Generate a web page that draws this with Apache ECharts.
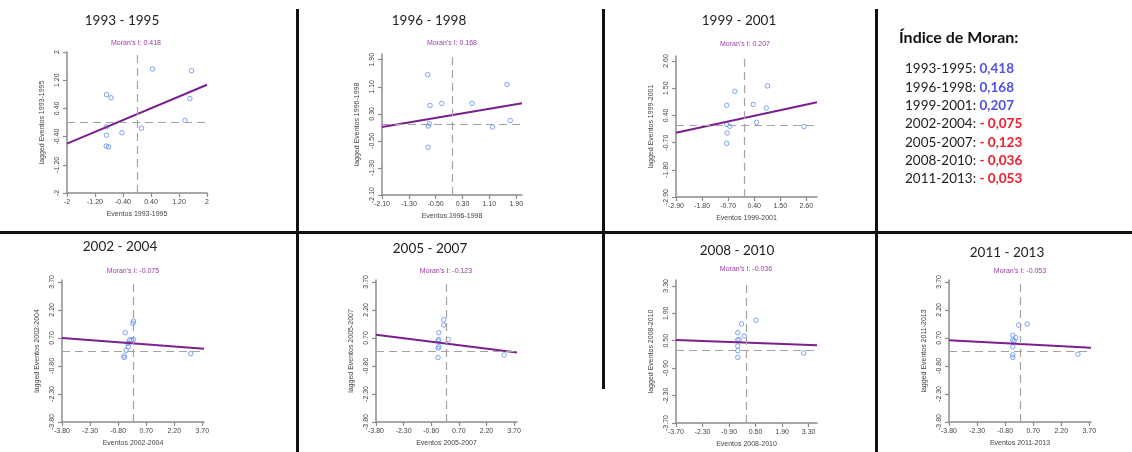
<!DOCTYPE html>
<html>
<head>
<meta charset="utf-8">
<script src="https://cdn.jsdelivr.net/npm/echarts@6/dist/echarts.min.js"></script>
<style>
  html, body { margin: 0; padding: 0; background: #fff; }
  #chart { width: 1132px; height: 452px; }
</style>
</head>
<body>
<div id="chart"></div>
<script>
// periodos e indice de Moran (inclinação da reta)
const periods = ['1993-1995', '1996-1998', '1999-2001', '2002-2004', '2005-2007', '2008-2010', '2011-2013'];
const moranI = [0.418, 0.168, 0.207, -0.075, -0.123, -0.036, -0.053];
const intercepts = [0.235, 0.263, 0.30, 0.41, 0.40, 0.41, 0.37];

// eventos (x) e eventos defasados (y)
const ev9395 = [-0.87, -0.74, 0.44, 1.56, 1.51, 1.37, 0.13, -0.43, -0.87, -0.87, -0.88, -0.81];
const lag9395 = [0.79, 0.70, 1.52, 1.47, 0.68, 0.06, -0.16, -0.29, -0.36, -0.12, -0.67, -0.69];
const ev9698 = [-0.74, -0.67, -0.32, 0.58, 1.62, 1.72, 1.19, -0.69, -0.72, -0.73];
const lag9698 = [1.46, 0.55, 0.61, 0.61, 1.17, 0.10, -0.09, 0.01, -0.06, -0.69];
const ev9901 = [-0.42, -0.76, 0.36, 0.96, 0.91, 0.50, -0.76, -0.63, -0.74, -0.76, 2.50];
const lag9901 = [1.37, 0.81, 0.84, 1.59, 0.70, 0.12, 0.04, -0.04, -0.31, -0.73, -0.05];
const ev0204 = [-0.42, -0.01, 0.02, -0.19, 0.02, -0.28, -0.25, -0.37, -0.48, -0.48, 3.08, -0.10];
const lag0204 = [0.98, 1.48, 1.60, 0.59, 0.61, 0.41, 0.23, 0.04, -0.26, -0.35, -0.14, 0.59];
const ev0507 = [-0.12, -0.12, -0.39, -0.39, -0.43, 0.13, -0.39, -0.43, -0.43, 3.16];
const lag0507 = [1.67, 1.39, 0.98, 0.61, 0.54, 0.61, 0.23, 0.15, -0.35, -0.21];
const ev0810 = [0.52, -0.24, -0.44, -0.10, -0.44, -0.37, -0.44, -0.44, -0.44, 3.04];
const lag0810 = [1.55, 1.36, 0.91, 0.74, 0.55, 0.54, 0.23, -0.01, -0.35, -0.13];
const ev1113 = [0.38, -0.07, -0.39, -0.23, -0.39, -0.32, -0.39, -0.39, -0.39, 3.09];
const lag1113 = [1.44, 1.39, 0.84, 0.71, 0.59, 0.54, 0.23, -0.21, -0.35, -0.17];

// rótulos dos eixos
const ticks9395 = ['-2', '-1.20', '-0.40', '0.40', '1.20', '2'];
const ticks9698 = ['-2.10', '-1.30', '-0.50', '0.30', '1.10', '1.90'];
const ticks9901 = ['-2.90', '-1.80', '-0.70', '0.40', '1.50', '2.60'];
const ticks0204 = ['-3.80', '-2.30', '-0.80', '0.70', '2.20', '3.70'];
const ticks0507 = ['-3.80', '-2.30', '-0.80', '0.70', '2.20', '3.70'];
const ticks0810 = ['-3.70', '-2.30', '-0.90', '0.50', '1.90', '3.30'];
const ticks1113 = ['-3.80', '-2.30', '-0.80', '0.70', '2.20', '3.70'];

const xs = [ev9395, ev9698, ev9901, ev0204, ev0507, ev0810, ev1113];
const ys = [lag9395, lag9698, lag9901, lag0204, lag0507, lag0810, lag1113];
const ticks = [ticks9395, ticks9698, ticks9901, ticks0204, ticks0507, ticks0810, ticks1113];

// posição de cada painel na imagem
const panels = [
  { left: 67, top: 52, width: 140, height: 141, x: [-2, 2], y: [-2, 2], title: [122, 21], moran: [136, 43] },
  { left: 382, top: 54, width: 140, height: 141, x: [-2.1, 2.07], y: [-2.1, 2.07], title: [429, 21], moran: [452, 43] },
  { left: 676, top: 56, width: 141, height: 141, x: [-2.9, 3.05], y: [-2.9, 2.8], title: [739, 21], moran: [745, 44] },
  { left: 62, top: 280, width: 142, height: 142, x: [-3.8, 3.79], y: [-3.8, 3.8], title: [120, 247], moran: [133, 271] },
  { left: 376, top: 280, width: 141, height: 142, x: [-3.8, 3.86], y: [-3.8, 3.8], title: [430, 249], moran: [446, 271] },
  { left: 676, top: 280, width: 141, height: 143, x: [-3.7, 3.74], y: [-3.7, 3.6], title: [737, 251], moran: [746, 269] },
  { left: 949, top: 280, width: 142, height: 142, x: [-3.8, 3.79], y: [-3.8, 3.8], title: [1007, 253], moran: [1020, 271] }
];

const chart = echarts.init(document.getElementById('chart'));
const grid = [], xAxis = [], yAxis = [], series = [], graphic = [];
const axisColor = '#8c8c8c';
const smallFont = { fontSize: 7, color: '#444', fontFamily: 'Liberation Sans' };

panels.forEach((p, i) => {
  grid.push({ left: p.left, top: p.top, width: p.width, height: p.height });
  const tv = ticks[i].map(Number);
  const fmt = v => {
    const k = tv.findIndex(t => Math.abs(t - v) < 1e-6);
    return k >= 0 ? ticks[i][k] : '';
  };
  const common = {
    type: 'value', gridIndex: i, splitLine: { show: false },
    axisLine: { onZero: false, lineStyle: { color: axisColor, width: 1.5 } },
    axisTick: { customValues: tv, length: 4, lineStyle: { color: axisColor, width: 1.2 } },
    nameLocation: 'middle', nameTextStyle: smallFont
  };
  xAxis.push({
    ...common, min: p.x[0], max: p.x[1],
    name: 'Eventos ' + periods[i], nameGap: 18,
    axisLabel: { ...smallFont, customValues: tv, formatter: fmt, margin: 6 }
  });
  yAxis.push({
    ...common, min: p.y[0], max: p.y[1],
    name: 'lagged Eventos ' + periods[i], nameGap: 21,
    axisLabel: { ...smallFont, customValues: tv, formatter: fmt, margin: 6, rotate: 90 }
  });

  series.push({
    type: 'scatter', xAxisIndex: i, yAxisIndex: i,
    data: xs[i].map((x, k) => [x, ys[i][k]]),
    symbol: 'circle', symbolSize: 4.5,
    itemStyle: { color: 'rgba(0,0,0,0)', borderColor: '#5b8def', borderWidth: 1 },
    markLine: {
      silent: true, symbol: 'none', label: { show: false },
      lineStyle: { color: '#a3a3a3', type: [8, 5], width: 1.2 },
      data: [{ xAxis: 0 }, { yAxis: 0 }]
    }
  });
  // reta de regressão: y = a + I*x nos limites do eixo x
  const a = intercepts[i], m = moranI[i];
  series.push({
    type: 'line', xAxisIndex: i, yAxisIndex: i, showSymbol: false,
    data: [[p.x[0], a + m * p.x[0]], [p.x[1], a + m * p.x[1]]],
    lineStyle: { color: '#7b1f8e', width: 2 }
  });

  graphic.push({
    type: 'text', x: p.title[0], y: p.title[1],
    style: {
      text: periods[i].replace('-', ' - '), fill: '#222',
      font: '13.5px Lato', align: 'center', verticalAlign: 'middle'
    }
  });
  graphic.push({
    type: 'text', x: p.moran[0], y: p.moran[1],
    style: {
      text: "Moran's I: " + m.toFixed(3), fill: '#9b3aa6',
      font: '7px "Liberation Sans"', align: 'center', verticalAlign: 'middle'
    }
  });
});

// quadro com os índices
graphic.push({
  type: 'text', x: 899, y: 38,
  style: { text: 'Índice de Moran:', fill: '#111', font: 'bold 16px Lato', verticalAlign: 'middle' }
});
periods.forEach((per, i) => {
  const v = moranI[i];
  const txt = (v < 0 ? '- ' : '') + Math.abs(v).toFixed(3).replace('.', ',');
  graphic.push({
    type: 'text', x: 905, y: 69 + i * 18.3,
    style: {
      text: '{a|' + per + ': }{' + (v < 0 ? 'n' : 'p') + '|' + txt + '}',
      verticalAlign: 'middle',
      rich: {
        a: { fill: '#222', font: '13.5px Lato' },
        p: { fill: '#4f4fe6', font: 'bold 13.5px Lato' },
        n: { fill: '#ec1c2c', font: 'bold 13.5px Lato' }
      }
    }
  });
});

// linhas divisórias
const divider = (x1, y1, x2, y2) => ({
  type: 'line', shape: { x1, y1, x2, y2 }, style: { stroke: '#111', lineWidth: 3 }
});
graphic.push(divider(0, 232.5, 1132, 232.5));
graphic.push(divider(297.5, 9, 297.5, 452));
graphic.push(divider(603.5, 9, 603.5, 389));
graphic.push(divider(876.5, 9, 876.5, 452));

chart.setOption({
  animation: false,
  grid, xAxis, yAxis, series, graphic
});
</script>
</body>
</html>
